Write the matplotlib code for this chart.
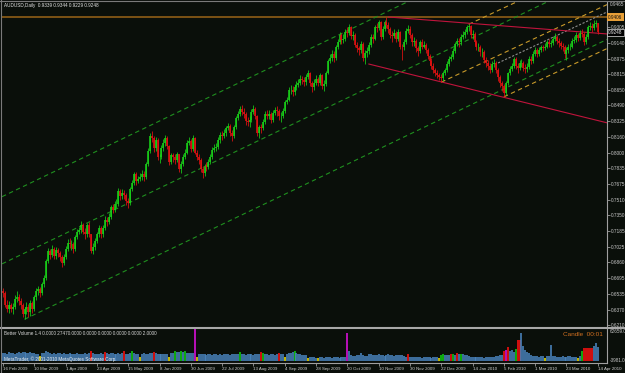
import matplotlib
matplotlib.use("Agg")
import matplotlib.pyplot as plt
import matplotlib.transforms as mtransforms
import numpy as np

plt.rcParams['font.family'] = ['Liberation Sans', 'DejaVu Sans']

# ---- daily AUDUSD bars, prices in 1/10000 ----
opens = [6560,6540,6420,6380,6420,6380,6400,6480,6500,6460,
         6420,6330,6380,6400,6350,6440,6380,6500,6560,6580,
         6540,6640,6700,6880,6980,6940,7000,6930,6990,6960,
         6920,6850,6920,7000,7060,7050,7050,7000,7120,7180,
         7200,7250,7180,7150,7250,7150,6980,7020,7080,7150,
         7220,7150,7220,7300,7280,7330,7430,7400,7470,7470,
         7600,7550,7580,7560,7500,7480,7620,7680,7780,7700,
         7730,7750,7780,7750,7880,8020,8170,8150,8050,8130,
         7950,7950,8050,8100,8150,8070,7900,7970,7950,7920,
         7980,7830,7880,7950,8000,8100,8120,8040,8150,8000,
         7950,7920,7830,7790,7860,7850,7900,7950,8030,8050,
         8060,8130,8180,8170,8200,8250,8280,8200,8170,8260,
         8360,8400,8450,8420,8400,8330,8320,8340,8420,8450,
         8380,8200,8260,8250,8320,8400,8380,8400,8340,8410,
         8440,8430,8380,8380,8430,8520,8550,8650,8650,8630,
         8680,8700,8720,8760,8750,8730,8780,8820,8720,8680,
         8720,8760,8720,8800,8690,8710,8830,8950,8980,9020,
         8980,9100,9150,9220,9170,9180,9250,9240,9300,9210,
         9220,9120,9080,9060,9130,8980,9030,9050,9120,9200,
         9180,9300,9290,9350,9200,9280,9350,9320,9280,9220,
         9210,9240,9180,9250,9100,9090,9150,9260,9280,9220,
         9150,9160,9080,9050,9150,9100,9120,9060,9000,8950,
         8900,8860,8830,8800,8780,8770,8820,8860,8920,8970,
         8990,9050,9130,9160,9150,9200,9220,9250,9300,9310,
         9220,9230,9150,9100,9100,9040,9040,8960,8930,8900,
         8860,8920,8930,8860,8780,8720,8690,8620,8720,8820,
         8870,8900,8970,8900,8880,8930,8930,8880,8870,8890,
         8970,8950,9020,9060,9020,9060,9090,9080,9100,9150,
         9130,9140,9180,9200,9160,9140,9110,9100,9020,9060,
         9100,9100,9160,9170,9220,9190,9240,9230,9150,9200,
         9300,9310,9290,9330,9339]
highs = [6590,6560,6470,6460,6440,6440,6520,6560,6530,6490,
         6440,6400,6450,6430,6470,6460,6520,6590,6620,6610,
         6660,6730,6900,7010,7000,7040,7020,7020,7010,6980,
         6940,6950,7030,7100,7110,7090,7070,7140,7210,7230,
         7290,7270,7220,7270,7280,7160,7060,7110,7180,7250,
         7240,7250,7340,7330,7370,7460,7470,7500,7520,7630,
         7620,7620,7610,7580,7530,7640,7710,7800,7800,7760,
         7790,7820,7810,7900,8050,8200,8220,8170,8160,8150,
         7990,8080,8140,8180,8170,8080,8000,8000,7980,8010,
         7990,7910,7980,8040,8130,8160,8140,8180,8160,8030,
         7980,7940,7860,7880,7900,7930,7990,8060,8090,8100,
         8160,8210,8220,8240,8280,8310,8300,8230,8290,8380,
         8430,8480,8490,8460,8420,8370,8380,8450,8490,8470,
         8390,8290,8300,8350,8430,8440,8440,8420,8440,8470,
         8480,8450,8420,8460,8550,8580,8680,8700,8690,8710,
         8740,8760,8800,8790,8780,8810,8860,8840,8740,8760,
         8800,8780,8830,8810,8750,8850,8970,9020,9060,9050,
         9120,9180,9250,9240,9230,9280,9300,9330,9310,9260,
         9240,9150,9110,9160,9150,9060,9090,9150,9230,9230,
         9320,9340,9370,9360,9310,9380,9406,9350,9300,9260,
         9280,9260,9280,9260,9130,9180,9290,9320,9310,9240,
         9200,9180,9110,9170,9180,9160,9140,9080,9020,8980,
         8930,8880,8860,8830,8810,8850,8880,8950,9000,9020,
         9080,9150,9190,9190,9230,9260,9280,9320,9330,9320,
         9270,9250,9170,9140,9120,9080,9060,8990,8960,8930,
         8950,8970,8950,8880,8800,8740,8710,8740,8840,8900,
         8930,8990,8990,8930,8960,8970,8950,8920,8930,9000,
         9000,9050,9090,9080,9090,9120,9120,9140,9170,9180,
         9170,9210,9240,9220,9190,9160,9140,9120,9090,9130,
         9140,9190,9210,9250,9240,9270,9280,9250,9230,9320,
         9350,9340,9370,9380,9344]
lows = [6500,6400,6350,6340,6350,6330,6380,6450,6420,6380,
        6290,6270,6330,6290,6300,6340,6360,6470,6520,6500,
        6520,6610,6680,6850,6900,6920,6900,6900,6920,6870,
        6810,6830,6900,6980,7010,6990,6960,6980,7100,7160,
        7170,7150,7100,7120,7120,6960,6950,6990,7060,7120,
        7110,7120,7200,7240,7260,7310,7370,7380,7420,7450,
        7510,7520,7520,7460,7420,7460,7600,7660,7660,7680,
        7700,7720,7700,7730,7860,8000,8110,8010,8020,7920,
        7890,7930,8020,8070,8040,7870,7880,7900,7880,7900,
        7800,7790,7860,7930,7980,8080,8010,8020,7980,7920,
        7880,7800,7740,7760,7810,7830,7880,7930,8010,8020,
        8040,8100,8130,8150,8170,8230,8170,8120,8150,8240,
        8340,8380,8390,8360,8290,8280,8270,8320,8400,8350,
        8170,8150,8200,8230,8300,8350,8350,8310,8320,8390,
        8380,8340,8320,8360,8410,8500,8530,8610,8590,8600,
        8650,8680,8700,8710,8690,8700,8760,8690,8630,8650,
        8700,8690,8700,8660,8640,8690,8810,8930,8950,8940,
        8960,9070,9130,9130,9140,9160,9200,9220,9180,9170,
        9090,9040,9010,9030,8950,8920,8990,9020,9100,9140,
        9170,9250,9270,9170,9180,9260,9290,9240,9190,9150,
        9190,9150,9160,9070,8960,9060,9130,9240,9190,9110,
        9110,9040,9000,9030,9070,9080,9030,8970,8910,8870,
        8830,8790,8770,8750,8730,8740,8800,8840,8900,8950,
        8970,9030,9110,9100,9120,9180,9190,9230,9260,9190,
        9180,9120,9060,9050,9000,8990,8930,8890,8860,8820,
        8840,8890,8830,8740,8680,8640,8578,8600,8700,8800,
        8850,8880,8870,8830,8860,8890,8850,8820,8840,8870,
        8920,8930,9000,8990,9000,9040,9050,9060,9080,9100,
        9100,9120,9160,9130,9100,9070,9050,8980,8960,9030,
        9060,9080,9140,9150,9160,9170,9200,9120,9130,9180,
        9270,9250,9270,9300,9229]
closes = [6540,6420,6380,6420,6380,6400,6480,6500,6460,6420,
          6330,6380,6400,6350,6440,6380,6500,6560,6580,6540,
          6640,6700,6880,6980,6940,7000,6930,6990,6960,6920,
          6850,6920,7000,7060,7050,7050,7000,7120,7180,7200,
          7250,7180,7150,7250,7150,6980,7020,7080,7150,7220,
          7150,7220,7300,7280,7330,7430,7400,7470,7470,7600,
          7550,7580,7560,7500,7480,7620,7680,7780,7700,7730,
          7750,7780,7750,7880,8020,8170,8150,8050,8130,7950,
          7950,8050,8100,8150,8070,7900,7970,7950,7920,7980,
          7830,7880,7950,8000,8100,8120,8040,8150,8000,7950,
          7920,7830,7790,7860,7850,7900,7950,8030,8050,8060,
          8130,8180,8170,8200,8250,8280,8200,8170,8260,8360,
          8400,8450,8420,8400,8330,8320,8340,8420,8450,8380,
          8200,8260,8250,8320,8400,8380,8400,8340,8410,8440,
          8430,8380,8380,8430,8520,8550,8650,8650,8630,8680,
          8700,8720,8760,8750,8730,8780,8820,8720,8680,8720,
          8760,8720,8800,8690,8710,8830,8950,8980,9020,8980,
          9100,9150,9220,9170,9180,9250,9240,9300,9210,9220,
          9120,9080,9060,9130,8980,9030,9050,9120,9200,9180,
          9300,9290,9350,9200,9280,9350,9320,9280,9220,9210,
          9240,9180,9250,9100,9090,9150,9260,9280,9220,9150,
          9160,9080,9050,9150,9100,9120,9060,9000,8950,8900,
          8860,8830,8800,8780,8770,8820,8860,8920,8970,8990,
          9050,9130,9160,9150,9200,9220,9250,9300,9310,9220,
          9230,9150,9100,9100,9040,9040,8960,8930,8900,8860,
          8920,8930,8860,8780,8720,8690,8620,8720,8820,8870,
          8900,8970,8900,8880,8930,8930,8880,8870,8890,8970,
          8950,9020,9060,9020,9060,9090,9080,9100,9150,9130,
          9140,9180,9200,9160,9140,9110,9100,9020,9060,9100,
          9100,9160,9170,9220,9190,9240,9230,9150,9200,9300,
          9310,9290,9330,9339,9248]

# Better Volume (tick volume) and the bars the indicator flags
volumes = [15000,16000,14500,17000,15500,16500,14000,15000,17500,16000,
           18000,17000,16500,15500,17000,16000,15000,14500,13500,9000,
           15000,16500,19000,18000,15500,14500,15000,14000,15500,16000,
           14500,15000,13500,14000,15500,14000,13000,14500,15000,14000,
           13500,14500,15000,14000,16000,19000,15500,14000,13500,14500,
           15000,14000,18500,15000,14500,16000,15500,14000,13500,15000,
           14500,15000,19000,14500,14000,15000,20000,15500,14500,14000,
           8000,14500,15000,14000,13500,15500,16000,17000,15000,14500,
           13500,14000,14500,13000,14000,8500,15000,16000,20000,18500,
           17000,19500,18000,19000,16500,15500,16000,15000,62659,7000,
           13000,13500,14000,13000,12500,13500,14000,12000,13000,13500,
           12500,13000,12000,13500,14000,13000,12500,14000,13500,13000,
           14000,17000,13500,13000,12500,13000,14000,13500,12000,13000,
           14500,13500,17000,16500,14000,13000,12500,13500,14000,12500,
           13000,16000,14000,13500,7000,14500,15000,16000,17500,19500,
           15500,14000,13500,12500,12000,11000,6000,8000,7500,7000,
           6500,5000,7000,7500,6500,7000,8000,7500,6500,7000,
           7500,7000,6500,7000,7500,8000,55000,20000,11000,9500,
           10000,11500,12000,16000,11000,10000,9500,13000,14000,12500,
           11500,12000,13000,12500,11500,10500,11000,13000,12500,11000,
           10500,12000,11500,12000,11000,9000,8000,14000,8500,7500,
           7000,7500,8000,7000,6500,7500,8000,7000,7500,6500,
           7000,8000,8500,6000,12000,13000,11000,11500,12500,14000,
           13000,12000,15000,13500,14000,13000,12500,11000,9000,8500,
           7500,7000,7500,8000,7000,7500,6500,7000,7500,8000,
           8000,8500,9000,10000,11000,12000,20000,22000,28000,20000,
           22000,18000,24000,42000,41000,55000,30000,22000,18000,16000,
           12000,10000,9500,9000,8500,9000,10000,6000,9500,9000,
           31000,10000,9000,8500,8000,8500,9000,8000,8500,9500,
           9000,8500,8000,8500,5000,9000,19600,25000,25500,25000,
           25500,25000,29000,35000,27470]
vol_climax_up = [45, 52, 62, 77, 132, 141, 207, 229, 232, 256, 258, 263, 264,
                 297, 298, 299, 300, 301]
vol_climax_down = [66, 88, 91, 93, 121, 133, 149, 224, 225, 230, 234, 262, 296]
vol_low = [19, 70, 85, 99, 144, 156, 161, 223, 277, 294]
vol_churn = [98, 176, 257]

# date labels every 16 bars
date_labels = ['16 Feb 2009', '10 Mar 2009', '1 Apr 2009', '23 Apr 2009', '15 May 2009',
               '8 Jun 2009', '30 Jun 2009', '22 Jul 2009', '13 Aug 2009', '4 Sep 2009',
               '28 Sep 2009', '20 Oct 2009', '10 Nov 2009', '30 Nov 2009', '22 Dec 2009',
               '14 Jan 2010', '5 Feb 2010', '1 Mar 2010', '23 Mar 2010', '14 Apr 2010']
date_bars = list(range(0, 305, 16))

price_ticks = [0.6210, 0.6370, 0.6535, 0.6695, 0.6860, 0.7025, 0.7185, 0.7350, 0.7510,
               0.7675, 0.7835, 0.8000, 0.8160, 0.8325, 0.8490, 0.8650, 0.8815, 0.8975,
               0.9140, 0.9305]
top_price_label = '0.9465'

# chart objects: (bar, price) anchor pairs, drawn as rays to the right
green_channel = [[(-0.5, 0.7542), (150, 0.9010)],
                 [(-0.5, 0.6845), (150, 0.8313)],
                 [(11, 0.6270), (165, 0.7772)]]
yellow_channel = [[(238, 0.9330), (288, 0.9805)],
                  [(224, 0.8730), (294, 0.9395)],
                  [(256, 0.8578), (296, 0.8958)]]
gray_median = [(253, 0.8929), (293, 0.9309)]
red_wedge = [[(197, 0.9406), (300, 0.9244)],
             [(187, 0.8918), (300, 0.8352)]]
resistance = 0.9406
last_price = 0.9248

BG = '#0a0f0a'
W, H = 625, 373


def box(x0, y0, x1, y1):
    return [x0 / W, 1 - y1 / H, (x1 - x0) / W, (y1 - y0) / H]


def ray(ax, anchors, x_end, **kw):
    (b0, v0), (b1, v1) = anchors
    slope = (v1 - v0) / (b1 - b0)
    ax.plot([b0, x_end], [v0, v0 + slope * (x_end - b0)], **kw)


fig = plt.figure(figsize=(W / 100, H / 100), dpi=100, facecolor=BG)
ax = fig.add_axes(box(2, 2, 607, 326), facecolor=BG)
axv = fig.add_axes(box(2, 329, 607, 363), facecolor=BG)

n = len(closes)
idx = np.arange(n)
o = np.array(opens) / 1e4
h = np.array(highs) / 1e4
l = np.array(lows) / 1e4
c = np.array(closes) / 1e4
XMAX = 308.7

# price panel
ax.axhline(resistance, color='#9a6418', lw=1.1, zorder=1)
for line in green_channel:
    ray(ax, line, XMAX, color='#1f8f1f', lw=0.8, dashes=(4, 3), zorder=1)
for line in yellow_channel:
    ray(ax, line, XMAX, color='#c89a2a', lw=0.8, dashes=(4, 3), zorder=1)
ray(ax, gray_median, XMAX, color='#8c8c8c', lw=0.8, dashes=(2, 1.5), zorder=1)
for line in red_wedge:
    ray(ax, line, XMAX, color='#c0143c', lw=0.8, zorder=1)

up = c >= o
col = np.where(up, '#19d219', '#e41212')
ax.vlines(idx, l, h, colors=col, lw=0.55, zorder=2)
ax.vlines(idx, np.minimum(o, c), np.maximum(o, c), colors=col, lw=1.15, zorder=3)

ax.set_xlim(-0.5, XMAX)
ax.set_ylim(0.62006, 0.95617)
ax.set_xticks([])
ax.yaxis.tick_right()
ax.set_yticks(price_ticks)
ax.set_yticklabels([f'{v:.4f}' for v in price_ticks])
ax.tick_params(axis='y', colors='#9a9a9a', labelcolor='#c8c8c8', labelsize=3.4,
               length=2, width=0.6, pad=1)
for s in ['top', 'left', 'bottom']:
    ax.spines[s].set_visible(False)
ax.spines['right'].set_color('#a0a0a0')
ax.spines['right'].set_linewidth(0.8)

ytr = mtransforms.blended_transform_factory(ax.transAxes, ax.transData)
ax.text(1.004, 0.9535, top_price_label, transform=ytr, fontsize=3.4, color='#c8c8c8',
        va='center', ha='left', clip_on=False)
ax.text(1.002, resistance, f'{resistance:.4f}', transform=ytr, fontsize=3.4, color='#101010',
        va='center', ha='left', clip_on=False,
        bbox=dict(boxstyle='square,pad=0.25', fc='#e8a038', ec='none'))
ax.text(1.002, last_price, f'{last_price:.4f}', transform=ytr, fontsize=3.4, color='#f0f0f0',
        va='center', ha='left', clip_on=False,
        bbox=dict(boxstyle='square,pad=0.25', fc='#000000', ec='#e0e0e0', lw=0.5))

# volume panel
vcol = ['#4a86c0'] * n
for i in vol_climax_up:
    vcol[i] = '#ff1010'
for i in vol_climax_down:
    vcol[i] = '#10d010'
for i in vol_low:
    vcol[i] = '#f0e000'
for i in vol_churn:
    vcol[i] = '#e010e0'
axv.vlines(idx, 0, volumes, colors=vcol, lw=1.15)
axv.set_xlim(-0.5, XMAX)
axv.set_ylim(-3981, 62659)
axv.set_yticks([])
axv.set_xticks(date_bars)
axv.set_xticklabels(date_labels, ha='left')
axv.tick_params(axis='x', colors='#9a9a9a', labelcolor='#d0d0d0', labelsize=3.2,
                length=2, width=0.6, pad=1)
for s in ['top', 'left']:
    axv.spines[s].set_visible(False)
for s in ['right', 'bottom']:
    axv.spines[s].set_color('#a0a0a0')
    axv.spines[s].set_linewidth(0.8)
axv.text(1.004, 0.93, '62659.0', transform=axv.transAxes, fontsize=3.3, color='#c8c8c8',
         va='center', ha='left')
axv.text(1.004, 0.06, '-3981.0', transform=axv.transAxes, fontsize=3.3, color='#c8c8c8',
         va='center', ha='left')

# window texts and frame
fig.text(4 / W, 1 - 5 / H, 'AUDUSD,Daily  0.9339 0.9344 0.9229 0.9248', fontsize=3.3,
         color='#e6e6e6', va='center')
fig.text(4 / W, 1 - 333.5 / H,
         'Better Volume 1.4 0.0000 27470.0000 0.0000 0.0000 0.0000 0.0000 2.0000',
         fontsize=3.3, color='#d8d8d8', va='center')
fig.text(4 / W, 1 - 359.5 / H, 'MetaTrader, \u00a9 2001-2010 MetaQuotes Software Corp.',
         fontsize=3.3, color='#f0f0f0', va='center')
fig.text(563 / W, 1 - 334 / H, 'Candle  00:01', fontsize=4.6, color='#d27020', va='center')

fig.add_artist(plt.Line2D([0, 1], [1 - 327.5 / H] * 2, color='#a8a8a8', lw=1.5,
                          transform=fig.transFigure))
fig.add_artist(plt.Line2D([0.5 / W] * 2, [0, 1], color='#7a7a7a', lw=0.8,
                          transform=fig.transFigure))
fig.add_artist(plt.Line2D([0, 1], [1 - 0.5 / H] * 2, color='#7a7a7a', lw=0.8,
                          transform=fig.transFigure))

fig.savefig('out.png', dpi=100, facecolor=BG)
